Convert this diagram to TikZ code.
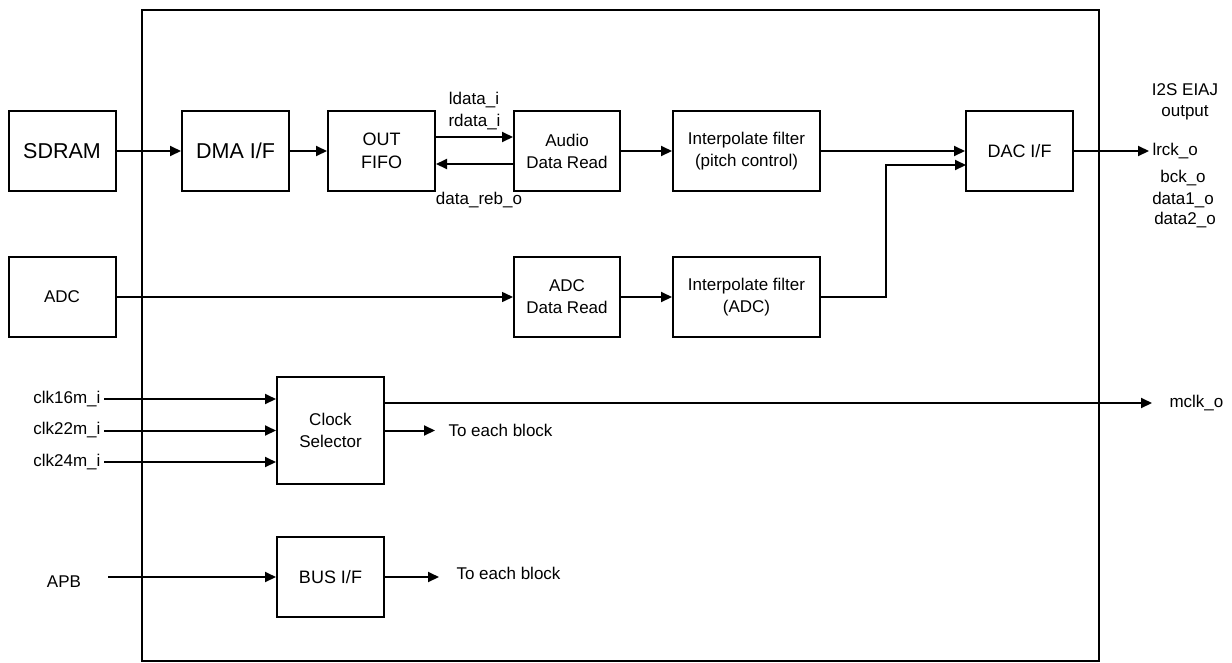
\documentclass[tikz,border=0pt]{standalone}
\usepackage{fontspec}
\setmainfont{Liberation Sans}
\usetikzlibrary{arrows.meta}

\tikzset{
  blk/.style={draw,line width=2pt,minimum width=107pt,minimum height=80pt,
    align=center,inner sep=0pt,font=\fontsize{17}{22}\selectfont},
  lbl/.style={align=center,font=\fontsize{17}{21}\selectfont},
  arr/.style={line width=2pt,-{Triangle[length=11pt,width=10pt]}},
}

\begin{document}
\begin{tikzpicture}[x=1pt,y=-1pt]
  \useasboundingbox (0,0) rectangle (1232,662);
  % chip outline
  \draw[line width=2.2pt] (142,10) rectangle (1099,661);
  %
  \node[blk,font=\fontsize{21.5}{24}\selectfont] (sdram) at (62,151) {SDRAM};
  \node[blk,font=\fontsize{21.5}{24}\selectfont] (dma) at (235.5,151) {DMA I/F};
  \node[blk,font=\fontsize{18}{23}\selectfont] (fifo) at (381.5,151) {OUT\\FIFO};
  \node[blk,minimum width=106pt] (aread) at (567,151) {Audio\\Data Read};
  \node[blk,minimum width=147pt] (ipitch) at (746.5,151) {Interpolate filter\\(pitch control)};
  \node[blk,font=\fontsize{18}{22}\selectfont] (dac) at (1019.5,151) {DAC I/F};
  %
  \node[blk] (adc) at (62,297) {ADC};
  \node[blk,minimum width=106pt] (aadc) at (567,297) {ADC\\Data Read};
  \node[blk,minimum width=147pt] (iadc) at (746.5,297) {Interpolate filter\\(ADC)};
  %
  \node[blk,minimum height=107pt] (clksel) at (330.5,430.5) {Clock\\Selector};
  \node[blk,font=\fontsize{18}{22}\selectfont] (bus) at (330.5,577) {BUS I/F};
  %
  \node[lbl] (i2s) at (1185,102) {I2S EIAJ\\output};
  \node[lbl,anchor=west] (lrck) at (1149,151) {lrck\_o};
  \node[lbl] (bck) at (1183,178) {bck\_o};
  \node[lbl] (data1) at (1183,200) {data1\_o};
  \node[lbl] (data2) at (1185,220) {data2\_o};
  \node[lbl] (ldata) at (474,100) {ldata\_i};
  \node[lbl] (rdata) at (474.5,122) {rdata\_i};
  \node[lbl] (reb) at (479,200) {data\_reb\_o};
  %
  \node[lbl,anchor=east] (clka) at (104,399) {clk16m\_i};
  \node[lbl,anchor=east] (clkb) at (104,430.5) {clk22m\_i};
  \node[lbl,anchor=east] (clkc) at (104,462) {clk24m\_i};
  \node[lbl,anchor=west] (mclk) at (1166,403) {mclk\_o};
  \node[lbl,anchor=west] (each1) at (445,430.5) {To each block};
  \node[lbl] (apb) at (64,582) {APB};
  \node[lbl,anchor=west] (each2) at (453,573) {To each block};
  \coordinate (mclkend) at (1152,403);
  \coordinate (each1end) at (435,430.5);
  \coordinate (each2end) at (439,577);
  \coordinate (apbstart) at (108,577);
  \coordinate (dacin) at (966,165);
  %
  \draw[arr] (sdram) -- (dma);
  \draw[arr] (dma) -- (fifo);
  \draw[arr] ([yshift=14pt]fifo.east) -- ([yshift=14pt]aread.west);
  \draw[arr] ([yshift=-13pt]aread.west) -- ([yshift=-13pt]fifo.east);
  \draw[arr] (aread) -- (ipitch);
  \draw[arr] (ipitch) -- (dac);
  \draw[arr] (dac) -- (lrck.west);
  %
  \draw[arr,line width=1.5pt] (adc) -- (aadc);
  \draw[arr] (aadc) -- (iadc);
  \draw[arr] (iadc.east) -| (886,165) -- (dacin);
  %
  \draw[arr] (clka.east) -- (clka.east -| clksel.west);
  \draw[arr] (clkb.east) -- (clkb.east -| clksel.west);
  \draw[arr] (clkc.east) -- (clkc.east -| clksel.west);
  \draw[arr] (clksel.east |- mclkend) -- (mclkend);
  \draw[arr] (clksel.east) -- (each1end);
  %
  \draw[arr] (apbstart) -- (bus);
  \draw[arr] (bus) -- (each2end);
\end{tikzpicture}
\end{document}
